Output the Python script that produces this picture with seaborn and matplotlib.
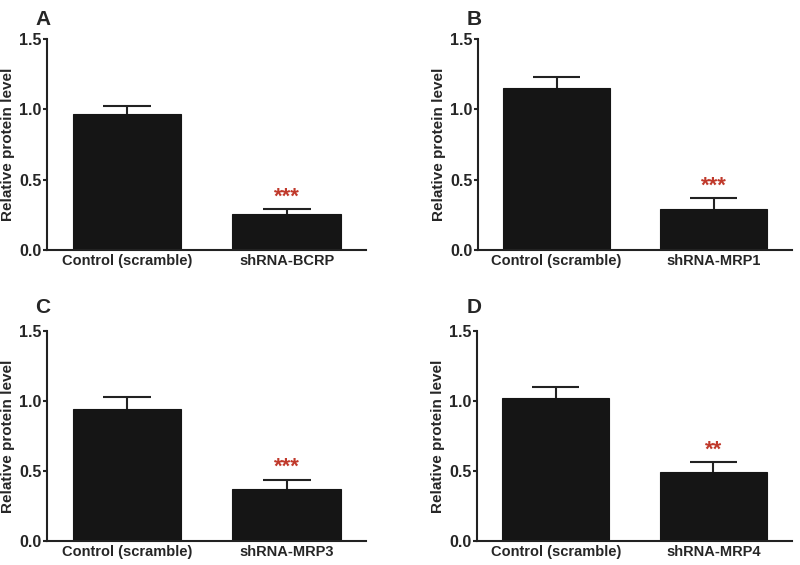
import matplotlib
matplotlib.use("Agg")
import matplotlib.pyplot as plt
import seaborn as sns
import pandas as pd

# values
control_label = "Control (scramble)"
targets = ["shRNA-BCRP", "shRNA-MRP1", "shRNA-MRP3", "shRNA-MRP4"]
panel_letters = ["A", "B", "C", "D"]
control_means = [0.965, 1.155, 0.945, 1.025]
control_sems = [0.062, 0.073, 0.084, 0.077]
shrna_means = [0.254, 0.294, 0.372, 0.494]
shrna_sems = [0.036, 0.073, 0.066, 0.071]
stars = ["***", "***", "***", "**"]
y_ticks = [0.0, 0.5, 1.0, 1.5]

sns.set_theme(style="ticks")
plt.rcParams["font.family"] = ["Liberation Sans", "DejaVu Sans"]
plt.rcParams["font.weight"] = "bold"

fig = plt.figure(figsize=(8, 5.65), dpi=100)

# axes rectangles in figure fraction (left, bottom, width, height)
positions = [
    (0.059, 0.5575, 0.399, 0.3735),
    (0.5975, 0.5575, 0.3925, 0.3735),
    (0.059, 0.0425, 0.399, 0.3715),
    (0.5963, 0.0425, 0.3937, 0.3715),
]
letter_xy = [(0.044, 0.965), (0.583, 0.965), (0.044, 0.455), (0.583, 0.455)]

bar_color = "#151515"
err_color = "#222222"
star_color = "#c0392b"
cap_half = 0.15  # half width of the error bar cap, in category units

for i in range(4):
    ax = fig.add_axes(positions[i])
    df = pd.DataFrame({
        "group": [control_label, targets[i]],
        "level": [control_means[i], shrna_means[i]],
        "sem": [control_sems[i], shrna_sems[i]],
    })
    sns.barplot(data=df, x="group", y="level", color=bar_color, width=0.68,
                saturation=1, edgecolor=bar_color, linewidth=0.8, ax=ax, zorder=2)
    # GraphPad-style error bars: upper half only
    xs = list(range(len(df)))
    tops = df["level"] + df["sem"]
    ax.vlines(xs, df["level"], tops, color=err_color, linewidth=1.5, zorder=3)
    ax.hlines(tops, [x - cap_half for x in xs], [x + cap_half for x in xs],
              color=err_color, linewidth=1.5, zorder=3)
    ax.text(1, tops.iloc[1] + 0.012, stars[i], color=star_color, ha="center",
            va="bottom", fontsize=16, fontweight="bold")

    ax.set_xlim(-0.5, 1.5)
    ax.set_ylim(0, 1.5)
    ax.set_yticks(y_ticks)
    ax.set_yticklabels([f"{t:.1f}" for t in y_ticks])
    ax.set_xlabel("")
    ax.set_ylabel("Relative protein level", fontsize=11, fontweight="bold",
                  labelpad=3)
    ax.tick_params(axis="y", length=3, width=1.5, labelsize=11.5, pad=1)
    ax.tick_params(axis="x", length=0, labelsize=10.5, pad=3)
    for lab in ax.get_xticklabels() + ax.get_yticklabels():
        lab.set_fontweight("bold")
    sns.despine(ax=ax)
    for s in ["left", "bottom"]:
        ax.spines[s].set_linewidth(1.5)
        ax.spines[s].set_color("#222222")
    ax.set_facecolor("white")

    fig.text(letter_xy[i][0], letter_xy[i][1], panel_letters[i], fontsize=15,
             fontweight="bold", ha="left", va="center")

fig.savefig("out.png", dpi=100, facecolor="white")
